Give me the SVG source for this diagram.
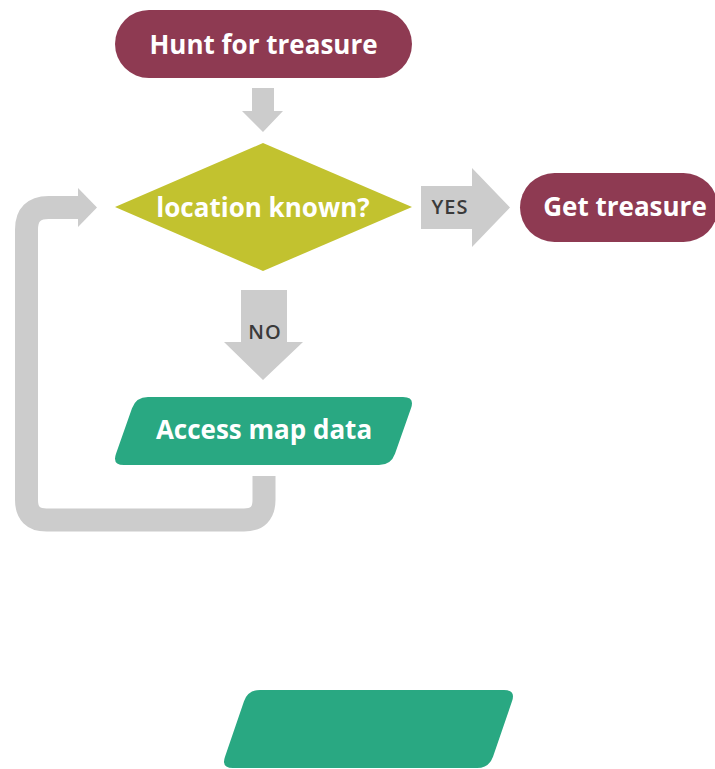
<svg xmlns="http://www.w3.org/2000/svg" width="715" height="769" viewBox="0 0 715 769">
  <style>
    .term { fill: #8E3A52; }
    .decision { fill: #C2C22F; }
    .io { fill: #29A882; }
    .flow { fill: #CCCCCC; }
    .loop { fill: none; stroke: #CCCCCC; stroke-width: 23; }
    .label { font-family: "Open Sans", "Liberation Sans", sans-serif; font-weight: 700; font-size: 26px; fill: #FFFFFF; text-anchor: middle; }
    .branch { font-family: "Open Sans", "Liberation Sans", sans-serif; font-weight: 600; font-size: 20px; letter-spacing: 1px; fill: #3A3A3A; text-anchor: middle; }
  </style>
  <rect width="715" height="769" fill="#FFFFFF"/>

  <!-- connectors -->
  <g id="connectors">
    <polygon class="flow" points="252,88 274,88 274,111 283,111 263,132 242,111 252,111"/>
    <polygon class="flow" points="421,186 472,186 472,168 510,207.5 472,247 472,229 421,229"/>
    <text class="branch" x="450" y="214">YES</text>
    <polygon class="flow" points="241,290 287,290 287,342 303,342 263,380 224,342 241,342"/>
    <text class="branch" x="265" y="339">NO</text>
    <path class="loop" d="M264,476 V500 Q264,520 244,520 H46.5 Q26.5,520 26.5,500 V229.5 Q26.5,207.5 48.5,207.5 H80"/>
    <polygon class="flow" points="78,188 97,207.5 78,227"/>
  </g>

  <!-- start terminal -->
  <g id="hunt">
    <rect class="term" x="115" y="10" width="297" height="68" rx="34"/>
    <text class="label" x="263.5" y="54">Hunt for treasure</text>
  </g>

  <!-- decision -->
  <g id="location">
    <polygon class="decision" points="263,143 412,207 263,271 115,207"/>
    <text class="label" x="263" y="217">location known?</text>
  </g>

  <!-- end terminal -->
  <g id="get">
    <rect class="term" x="520" y="173" width="198" height="69" rx="34.5"/>
    <text class="label" x="625" y="216">Get treasure</text>
  </g>

  <!-- input / output step -->
  <g id="access">
    <path class="io" d="M148,397 H403 Q415,397 411,408.3 L395,453.7 Q391,465 379,465 H124 Q112,465 116,453.7 L132,408.3 Q136,397 148,397 Z"/>
    <text class="label" x="264" y="439">Access map data</text>
  </g>

  <!-- empty input / output step -->
  <g id="blank">
    <path class="io" d="M260,690 H504 Q516,690 512,701.3 L493,756.7 Q489,768 477,768 H233 Q221,768 225,756.7 L244,701.3 Q248,690 260,690 Z"/>
  </g>
</svg>
